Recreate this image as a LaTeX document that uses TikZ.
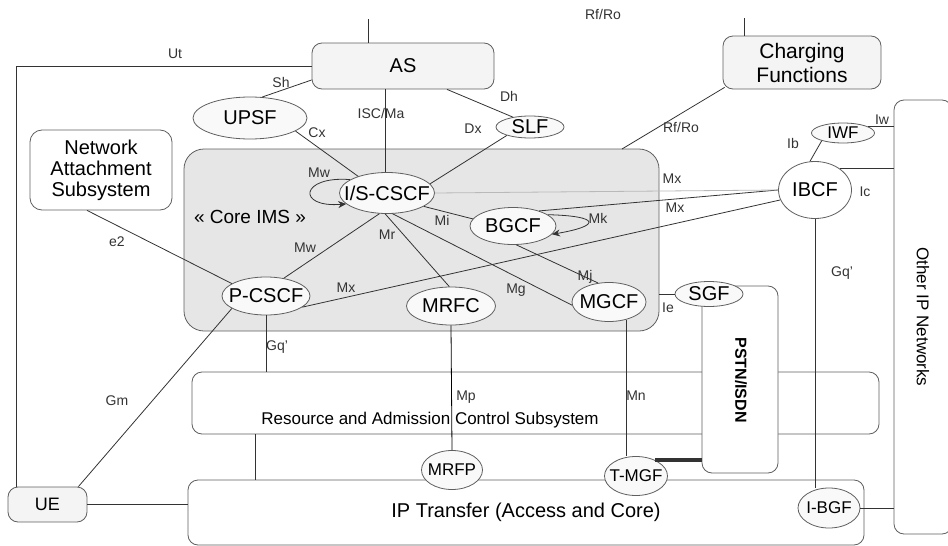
\documentclass[tikz,border=0pt]{standalone}
\usepackage{fontspec}
\setmainfont{Liberation Sans}
\usetikzlibrary{shapes.geometric,arrows.meta}
\definecolor{coregray}{RGB}{230,230,230}
\definecolor{edgegray}{RGB}{95,95,95}
\definecolor{boxfill}{RGB}{244,244,244}
\newcommand{\ent}[1]{\makebox[0pt]{#1}}

\begin{document}
\begin{tikzpicture}[x=0.5pt, y=-0.5pt,
  box/.style={draw=edgegray, rounded corners=5pt, inner sep=0pt, align=center, font=\fontsize{10}{12}\selectfont},
  func/.style={ellipse, draw=edgegray, fill=white!95!gray, inner sep=0pt, font=\fontsize{10}{12}\selectfont},
  smallfunc/.style={func, font=\fontsize{8.5}{10}\selectfont},
  ref/.style={font=\fontsize{7}{8}\selectfont, text=black!80, inner sep=0.5pt},
  link/.style={draw=black!80, line width=0.4pt},
  >={Stealth[length=4pt,width=3.5pt]}]
\clip (0,0) rectangle (948,546);

\node[box, fill=coregray, rounded corners=10pt, minimum width=237.5pt, minimum height=91pt] (core) at (421.5,240) {};
\node[font=\fontsize{9.5}{11}\selectfont] (coretitle) at (250,217) {« Core IMS »};
\node[box, rounded corners=6pt, minimum width=71pt, minimum height=40pt, font=\fontsize{10}{10.5}\selectfont] (NAS) at (101,170) {Network\\Attachment\\Subsystem};
\node[box, fill=boxfill, minimum width=91pt, minimum height=23pt] (AS) at (403,66) {AS};
\node[box, fill=boxfill, minimum width=79pt, minimum height=26.5pt, font=\fontsize{10.5}{12}\selectfont] (CF) at (802,62.5) {Charging\\Functions};
\node[box, fill=boxfill, minimum width=39.5pt, minimum height=17.5pt, font=\fontsize{9}{11}\selectfont] (UE) at (47.5,504.5) {UE};
\node[box, fill=white, minimum width=343.5pt, minimum height=31pt] (RACS) at (535.5,403) {};
\node[font=\fontsize{8.5}{10}\selectfont] (RACStext) at (430,420) {Resource and Admission Control Subsystem};
\node[box, fill=white, minimum width=338pt, minimum height=32.5pt] (IP) at (526,512.5) {IP Transfer (Access and Core)};
\node[box, fill=white, minimum width=38pt, minimum height=93.5pt] (PSTN) at (740,379.5) {};
\node[rotate=-90, font=\bfseries\fontsize{8}{10}\selectfont] (PSTNtext) at (741,380) {PSTN/ISDN};
\node[box, fill=white, minimum width=29pt, minimum height=217pt] (OIP) at (923,317) {};
\node[rotate=-90, font=\fontsize{8.5}{10}\selectfont] (OIPtext) at (923,317) {Other IP Networks};

\node[func, minimum width=57pt, minimum height=21pt] (UPSF) at (250,118) {\ent{UPSF}};
\node[func, minimum width=34pt, minimum height=11pt] (SLF) at (530,127) {\ent{SLF}};
\node[func, minimum width=47.5pt, minimum height=20.5pt] (ISC) at (387,193) {\ent{I/S-CSCF}};
\node[func, minimum width=44pt, minimum height=19pt] (PCSCF) at (266,296) {\ent{P-CSCF}};
\node[func, minimum width=44.5pt, minimum height=19pt] (MRFC) at (451,306) {\ent{MRFC}};
\node[func, minimum width=43pt, minimum height=18.5pt] (BGCF) at (513,226) {\ent{BGCF}};
\node[func, minimum width=37pt, minimum height=19.5pt] (MGCF) at (609,302) {\ent{MGCF}};
\node[func, fill=white, minimum width=36.5pt, minimum height=28.5pt] (IBCF) at (815,190) {\ent{IBCF}};
\node[smallfunc, minimum width=31.5pt, minimum height=10pt] (IWF) at (843,133) {\ent{IWF}};
\node[func, minimum width=34pt, minimum height=12.5pt] (SGF) at (709,294) {\ent{SGF}};
\node[smallfunc, minimum width=30.5pt, minimum height=19.5pt] (MRFP) at (452,470) {\ent{MRFP}};
\node[smallfunc, minimum width=31.5pt, minimum height=19.5pt] (TMGF) at (636,476) {\ent{T-MGF}};
\node[smallfunc, minimum width=31pt, minimum height=20pt] (IBGF) at (829,508) {\ent{I-BGF}};

\coordinate (asin) at (368,19);
\coordinate (cfin) at (744,18);
\coordinate (utcorner) at (16,66);
\coordinate (rfend) at (622,149);
\draw[link] (asin) -- (asin |- AS.north);
\draw[link] (cfin) -- (cfin |- CF.north);
\draw[link] (AS.west) -- (utcorner) -- (utcorner |- UE.north);
\draw[link] ([yshift=-7pt]AS.west) -- (UPSF.60);
\draw[link] (UPSF.-16) -- (ISC.150);
\draw[link] (ISC.95) -- (ISC.95 |- AS.south);
\draw[link] ([xshift=22pt]AS.south) -- (SLF.150);
\draw[link] (SLF.200) -- (ISC.12);
\draw[link] ([shift={(1pt,1pt)}]CF.south west) -- (rfend);
\draw[link] ([xshift=-7pt]NAS.south) -- (PCSCF.160);
\draw[link,->] (ISC.160) .. controls +(-50,-4) and +(-50,4) .. (ISC.195);
\draw[link] (ISC.-110) -- (PCSCF.45);
\draw[link] (ISC.-95) -- (MRFC.95);
\draw[link] (ISC.-20) -- (BGCF.170);
\draw[link,->] (BGCF.18) .. controls (601,216) and (601,226) .. (BGCF.-12);
\draw[link] (BGCF.-80) -- (MGCF.120);
\draw[link] (ISC.-75) -- (MGCF.185);
\draw[link] (PCSCF.-17) -- (IBCF.196);
\draw[link] (BGCF.30) -- (IBCF.west);
\draw[link, draw=gray!55] (ISC.east) -- (IBCF.west);
\draw[link] (IWF.-160) -- (IBCF.100);
\draw[link] (IWF.15) -- (IWF.15 -| OIP.west);
\draw[link] (IBCF.40) -- (IBCF.40 -| OIP.west);
\draw[link] (IBCF.south) -- (IBCF.south |- IBGF.north);
\draw[link] (core.east |- SGF.west) -- (SGF.west);
\draw[link] (PCSCF.south) -- (PCSCF.south |- RACS.north);
\draw[link] ([xshift=-4.5pt]UE.north east) -- (PCSCF.200);
\draw[link, draw=black] (MRFC.south) -- (MRFP.north);
\draw[link] ([xshift=32pt]RACS.south west) -- ([xshift=32pt]RACS.south west |- IP.north);
\draw[link] (UE.east) -- (UE.east -| IP.west);
\draw[link] (MGCF.-45) -- (MGCF.-45 |- TMGF.north);
\draw[line width=2pt, black!80] (TMGF.40) -- (TMGF.40 -| PSTN.west);
\draw[link] (IBGF.east) -- (IBGF.east -| OIP.west);

\node[ref] (lUt) at (175,54) {Ut};
\node[ref] (lRfRoTop) at (603,14) {Rf/Ro};
\node[ref] (lSh) at (281,82) {Sh};
\node[ref] (lISC) at (381,113) {ISC/Ma};
\node[ref] (lDh) at (509,96) {Dh};
\node[ref] (lDx) at (473,129) {Dx};
\node[ref] (lCx) at (317,133) {Cx};
\node[ref] (lRfRo) at (681,127) {Rf/Ro};
\node[ref] (lMwLoop) at (319,173) {Mw};
\node[ref] (lMw) at (305,248) {Mw};
\node[ref] (lMr) at (387,235) {Mr};
\node[ref] (lMi) at (442,220) {Mi};
\node[ref] (lMk) at (598,218) {Mk};
\node[ref] (lMxTop) at (672,179) {Mx};
\node[ref] (lMxMid) at (675,208) {Mx};
\node[ref] (lMxLow) at (346,288) {Mx};
\node[ref] (lMj) at (585,277) {Mj};
\node[ref] (lMg) at (516,290) {Mg};
\node[ref] (le2) at (117,242) {e2};
\node[ref] (lIb) at (793,143) {Ib};
\node[ref] (lIw) at (882,120) {Iw};
\node[ref] (lIc) at (865,192) {Ic};
\node[ref] (lGqR) at (842,273) {Gq'};
\node[ref] (lIe) at (668,308) {Ie};
\node[ref] (lGqL) at (277,347) {Gq'};
\node[ref] (lGm) at (117,401) {Gm};
\node[ref] (lMp) at (466,397) {Mp};
\node[ref] (lMn) at (636,396) {Mn};
\end{tikzpicture}
\end{document}
